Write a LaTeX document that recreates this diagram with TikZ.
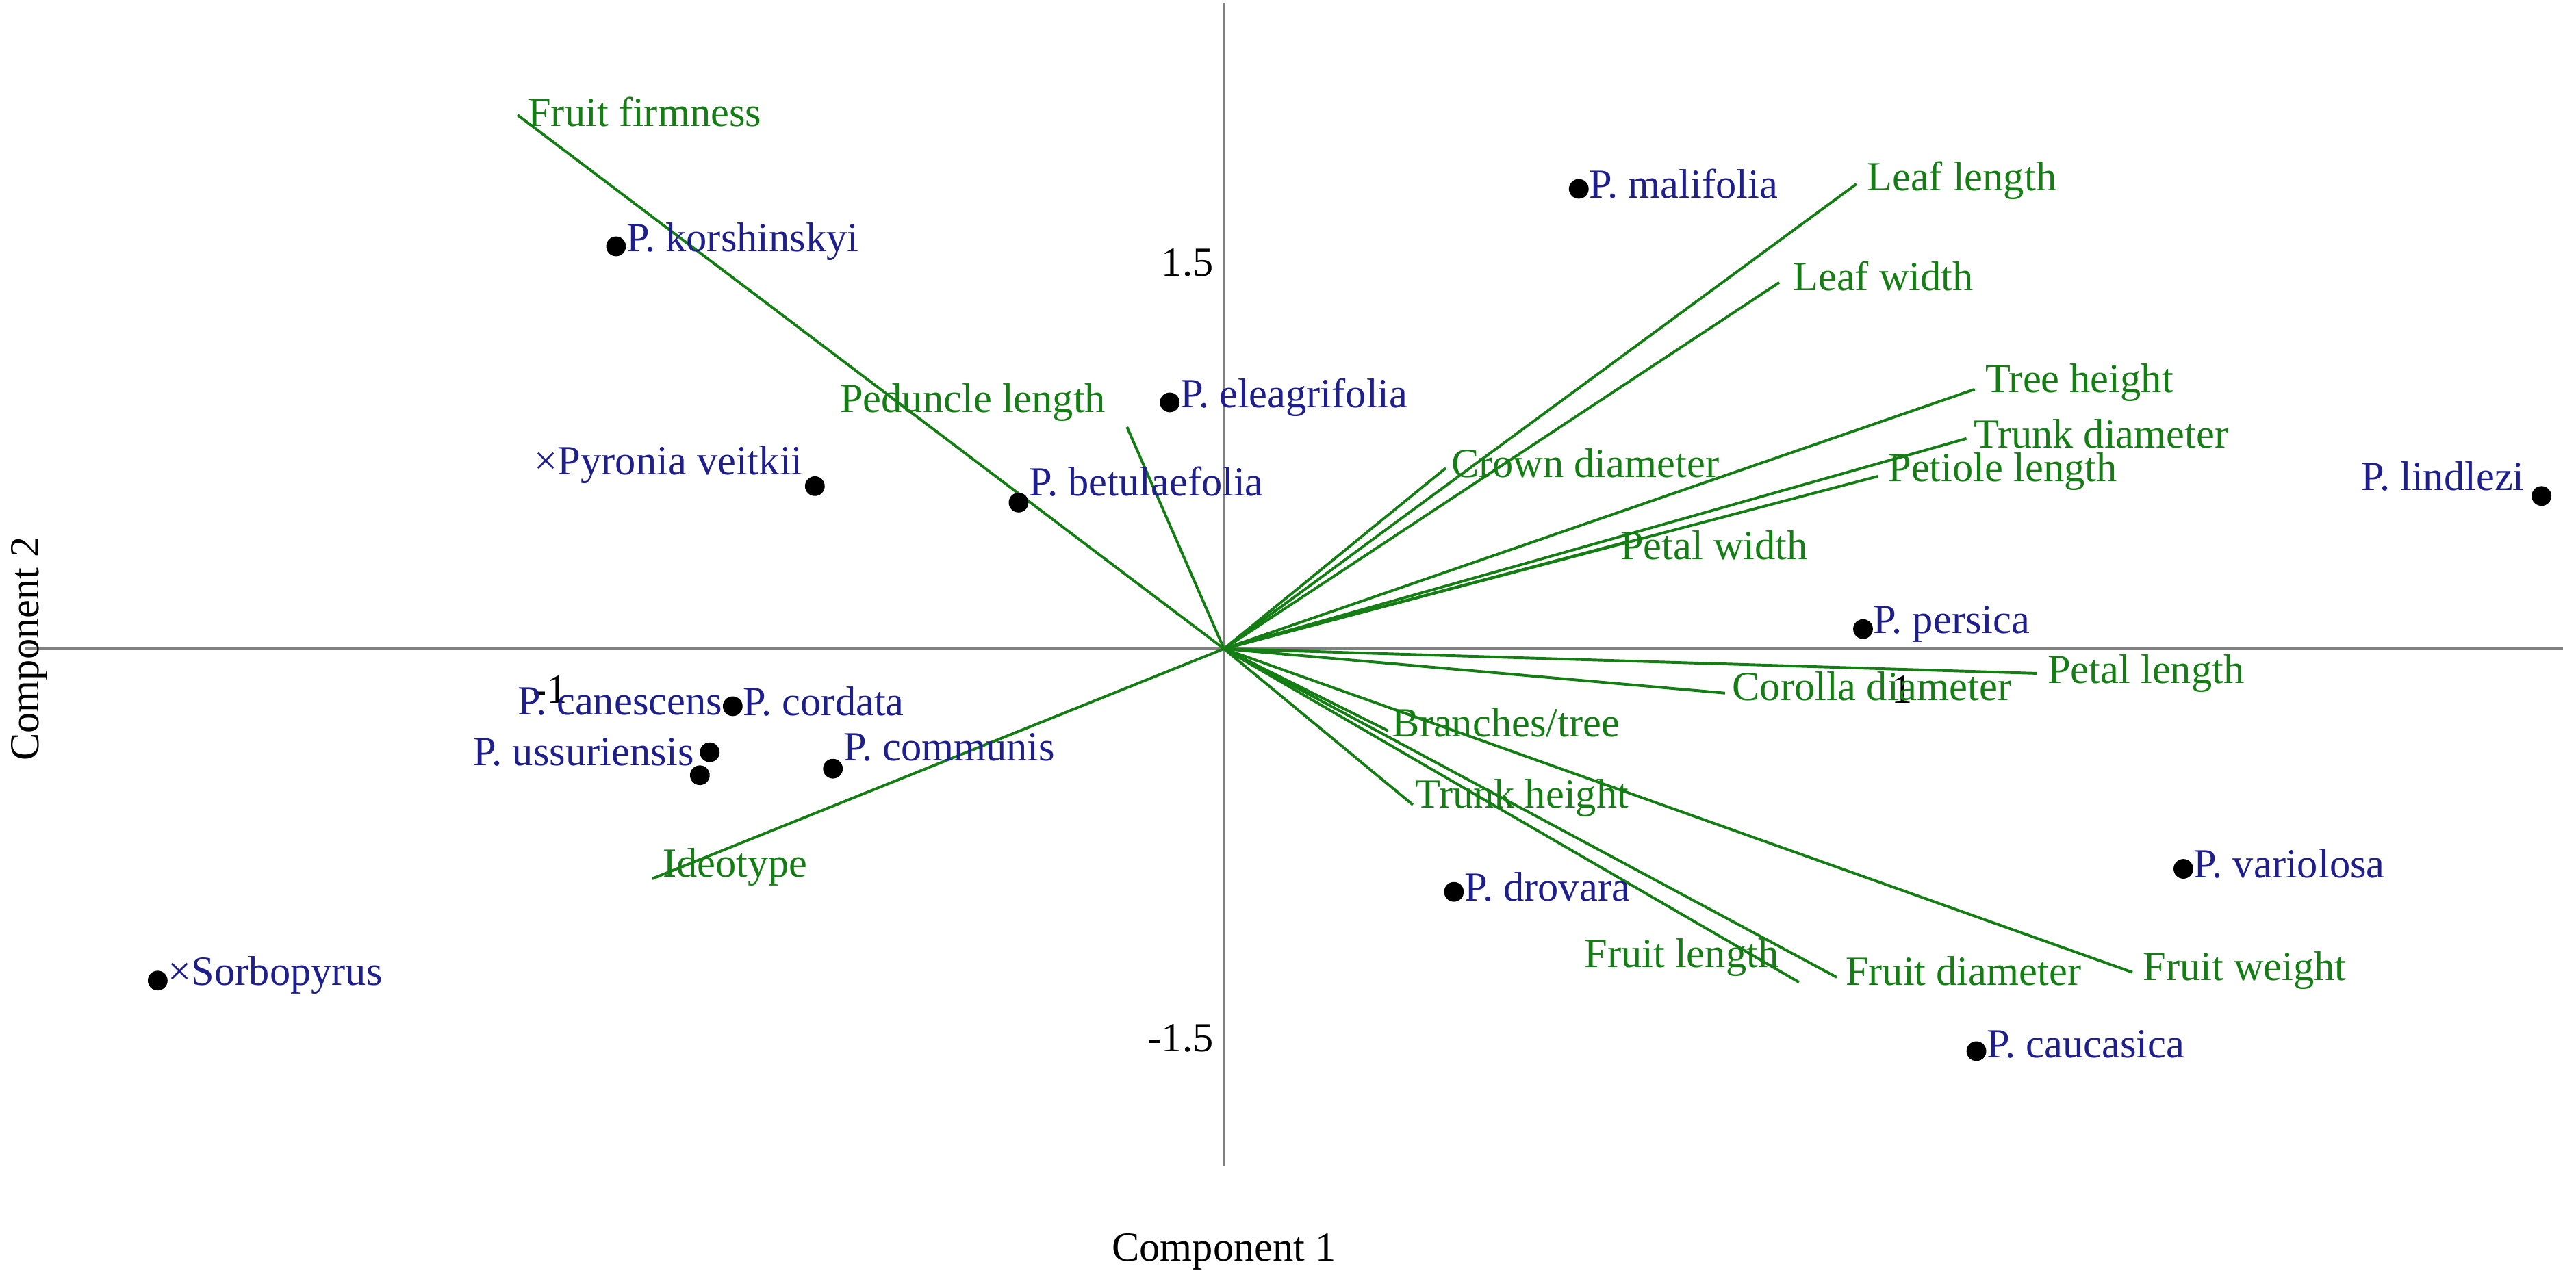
\documentclass[tikz,border=0pt]{standalone}
\usepackage{fontspec}
\setmainfont{Liberation Serif}
\begin{document}
\begin{tikzpicture}[x=0.03cm,y=-0.03cm,
  vec/.style={draw=vgreen,line width=1.4pt},
  vlab/.style={text=vgreen,font=\fontsize{21.5}{25}\selectfont,inner sep=1pt},
  plab/.style={text=pblue,font=\fontsize{21.5}{25}\selectfont,inner sep=1pt},
  dot/.style={circle,fill=black,inner sep=0pt,minimum size=0.36cm},
  tlab/.style={font=\fontsize{21.5}{25}\selectfont,inner sep=1pt},
  axis/.style={draw=gray,line width=1.3pt}]
\definecolor{vgreen}{RGB}{20,125,20}
\definecolor{pblue}{RGB}{30,30,140}
\useasboundingbox (0,0) rectangle (1568,784);
\coordinate (O) at (745,395);
\coordinate (xl) at (15,395); \coordinate (xr) at (1560,395);
\coordinate (yt) at (745,2); \coordinate (yb) at (745,710);
\draw[axis] (xl) -- (xr);
\draw[axis] (yt) -- (yb);
\node[tlab] (t1) at (335,420) {-1};
\node[tlab] (t2) at (1158,420) {1};
\node[tlab,anchor=east] (t3) at (740,160) {1.5};
\node[tlab,anchor=east] (t4) at (740,632) {-1.5};
\node[tlab,rotate=90] (c2) at (18,395) {Component 2};
\node[tlab] (c1) at (745,762) {Component 1};
% vectors
\foreach \n/\x/\y in {ff/315/70,pl/686/260,id/397/535,cd/880/285,ll/1130/112,lw/1083/172,th/1202/237,td/1197/267,ptl/1143/290,pw/990/330,pel/1240/410,cod/1050/422,bt/845/445,trh/860/490,fl/1095/598,fd/1118/595,fw/1298/592}{
  \coordinate (\n) at (\x,\y);
  \draw[vec] (O) -- (\n);
}
\foreach \n/\x/\y/\t in {lff/320/68/Fruit firmness,lpl/510/245/Peduncle length,lid/402/528/Ideotype,lcd/882/282/Crown diameter,lll/1135/110/Leaf length,llw/1090/168/Leaf width,lth/1207/233/Tree height,ltd/1200/264/Trunk diameter,lptl/1148/287/Petiole length,lpw/985/332/Petal width,lpel/1245/410/Petal length,lcod/1053/418/Corolla diameter,lbt/846/440/{Branches/tree},ltrh/860/486/Trunk height,lfl/963/583/Fruit length,lfd/1122/591/Fruit diameter,lfw/1303/591/Fruit weight}{
  \node[vlab,anchor=west] (\n) at (\x,\y) {\t};
}
% points
\foreach \n/\x/\y in {mal/961/115,kor/375/150,ele/712/245,pyr/496/296,bet/620/306,lin/1547/302,per/1134/383,can/446/430,uss/432/458,uss2/426/472,com/507/468,dro/885/543,var/1329/529,cau/1203/640,sor/96/597}{
  \node[dot] (\n) at (\x,\y) {};
}
\node[plab,anchor=west] (lmal) at (966,112) {P. malifolia};
\node[plab,anchor=west] (lkor) at (380,147) {P. korshinskyi};
\node[plab,anchor=west] (lele) at (717,242) {P. eleagrifolia};
\node[plab,anchor=east] (lpyr) at (490,283) {×Pyronia veitkii};
\node[plab,anchor=west] (lbet) at (625,293) {P. betulaefolia};
\node[plab,anchor=east] (llin) at (1538,290) {P. lindlezi};
\node[plab,anchor=west] (lper) at (1139,380) {P. persica};
\node[plab,anchor=east] (lcan) at (441,427) {P. canescens};
\node[plab,anchor=west] (lcor) at (451,427) {P. cordata};
\node[plab,anchor=east] (luss) at (424,458) {P. ussuriensis};
\node[plab,anchor=west] (lcom) at (512,455) {P. communis};
\node[plab,anchor=west] (ldro) at (890,540) {P. drovara};
\node[plab,anchor=west] (lvar) at (1334,526) {P. variolosa};
\node[plab,anchor=west] (lcau) at (1208,636) {P. caucasica};
\node[plab,anchor=west] (lsor) at (101,594) {×Sorbopyrus};
\end{tikzpicture}
\end{document}
